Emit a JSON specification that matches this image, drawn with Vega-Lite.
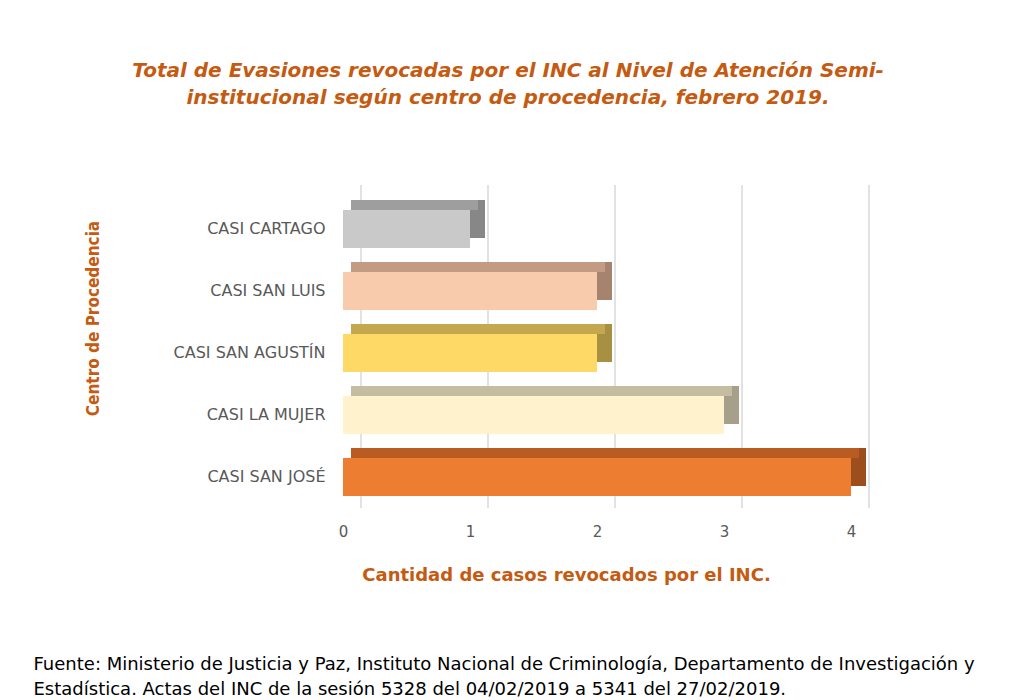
{
  "$schema": "https://vega.github.io/schema/vega-lite/v6.json",
  "width": 508,
  "height": 310,
  "autosize": "none",
  "padding": {"left": 343, "top": 198, "right": 165, "bottom": 192},
  "background": "white",
  "config": {"view": {"stroke": null}},
  "title": {
    "text": ["Total de Evasiones revocadas por el INC al Nivel de Atención Semi-", "institucional según centro de procedencia, febrero 2019."],
    "anchor": "middle",
    "frame": "group",
    "dx": -89,
    "offset": 76,
    "font": "DejaVu Sans",
    "fontSize": 20,
    "fontStyle": "italic",
    "fontWeight": "bold",
    "color": "#C55A11",
    "lineHeight": 27
  },
  "datasets": {
    "centros": [
      {"centro": "CASI CARTAGO", "casos": 1},
      {"centro": "CASI SAN LUIS", "casos": 2},
      {"centro": "CASI SAN AGUSTÍN", "casos": 2},
      {"centro": "CASI LA MUJER", "casos": 3},
      {"centro": "CASI SAN JOSÉ", "casos": 4}
    ],
    "rejilla": [
      {"valor": 0}, {"valor": 1}, {"valor": 2}, {"valor": 3}, {"valor": 4}
    ]
  },
  "resolve": {"scale": {"x": "independent", "color": "independent"}},
  "layer": [
    {
      "data": {"name": "rejilla"},
      "mark": {"type": "rule", "color": "#D9D9D9", "strokeWidth": 1.5, "xOffset": 18, "yOffset": -13},
      "encoding": {
        "x": {
          "field": "valor", "type": "quantitative",
          "scale": {"domain": [0, 4], "nice": false},
          "axis": {
            "values": [0, 1, 2, 3, 4],
            "format": "d",
            "grid": false, "domain": false, "ticks": false, "tickSize": 0,
            "labelFlush": false,
            "labelPadding": 16,
            "labelFont": "DejaVu Sans", "labelFontSize": 15, "labelColor": "#595959",
            "title": "Cantidad de casos revocados por el INC.",
            "titleFont": "DejaVu Sans", "titleFontSize": 18, "titleFontWeight": "bold", "titleColor": "#C55A11",
            "titleX": 223, "titleY": 67, "titleAlign": "center", "titleBaseline": "middle"
          }
        }
      }
    },
    {
      "data": {"name": "centros"},
      "mark": {"type": "bar", "xOffset": 15, "yOffset": -10},
      "encoding": {
        "y": {
          "field": "centro", "type": "nominal", "sort": null,
          "scale": {"paddingInner": 0.39, "paddingOuter": 0.195},
          "axis": {
            "domain": false, "ticks": false, "tickSize": 0, "labelPadding": 18,
            "labelFont": "DejaVu Sans", "labelFontSize": 16, "labelColor": "#595959",
            "title": "Centro de Procedencia",
            "titleFont": "'DejaVu Sans Condensed', 'Liberation Sans Narrow', sans-serif",
            "titleFontSize": 17, "titleFontWeight": "bold", "titleColor": "#C55A11",
            "titleAngle": -90, "titleX": -250, "titleY": 120, "titleAlign": "center", "titleBaseline": "middle"
          }
        },
        "x": {"field": "casos", "type": "quantitative", "scale": {"domain": [0, 4], "nice": false}, "axis": null},
        "color": {
          "field": "centro", "type": "nominal", "legend": null,
          "scale": {
            "domain": ["CASI CARTAGO", "CASI SAN LUIS", "CASI SAN AGUSTÍN", "CASI LA MUJER", "CASI SAN JOSÉ"],
            "range": ["#878787", "#A6836E", "#A89043", "#A69F89", "#9C4E1D"]
          }
        }
      }
    },
    {
      "data": {"name": "centros"},
      "mark": {"type": "bar", "xOffset": 8, "yOffset": -24, "height": 10},
      "encoding": {
        "y": {"field": "centro", "type": "nominal", "sort": null},
        "x": {"field": "casos", "type": "quantitative", "scale": {"domain": [0, 4], "nice": false}, "axis": null},
        "color": {
          "field": "centro", "type": "nominal", "legend": null,
          "scale": {
            "domain": ["CASI CARTAGO", "CASI SAN LUIS", "CASI SAN AGUSTÍN", "CASI LA MUJER", "CASI SAN JOSÉ"],
            "range": ["#9E9E9E", "#C29B82", "#C4A74F", "#C4BDA2", "#B85C22"]
          }
        }
      }
    },
    {
      "data": {"name": "centros"},
      "mark": {"type": "bar"},
      "encoding": {
        "y": {"field": "centro", "type": "nominal", "sort": null},
        "x": {"field": "casos", "type": "quantitative", "scale": {"domain": [0, 4], "nice": false}, "axis": null},
        "color": {
          "field": "centro", "type": "nominal", "legend": null,
          "scale": {
            "domain": ["CASI CARTAGO", "CASI SAN LUIS", "CASI SAN AGUSTÍN", "CASI LA MUJER", "CASI SAN JOSÉ"],
            "range": ["#C9C9C9", "#F8CBAD", "#FFD966", "#FFF2CC", "#ED7D31"]
          }
        }
      }
    },
    {
      "data": {"name": "centros"},
      "mark": {"type": "point", "opacity": 0},
      "encoding": {
        "y": {"field": "centro", "type": "nominal", "sort": null},
        "x": {
          "field": "casos", "type": "quantitative", "scale": {"domain": [0, 4], "nice": false},
          "axis": {
            "orient": "bottom", "labels": false, "ticks": false, "domain": false, "grid": false,
            "title": ["Fuente: Ministerio de Justicia y Paz, Instituto Nacional de Criminología, Departamento de Investigación y", "Estadística. Actas del INC de la sesión 5328 del 04/02/2019 a 5341 del 27/02/2019."],
            "titleFont": "DejaVu Sans", "titleFontSize": 18, "titleFontWeight": "normal", "titleColor": "#000000",
            "titleX": -310, "titleY": 161, "titleAlign": "left", "titleBaseline": "alphabetic", "titleLineHeight": 25
          }
        }
      }
    }
  ]
}
